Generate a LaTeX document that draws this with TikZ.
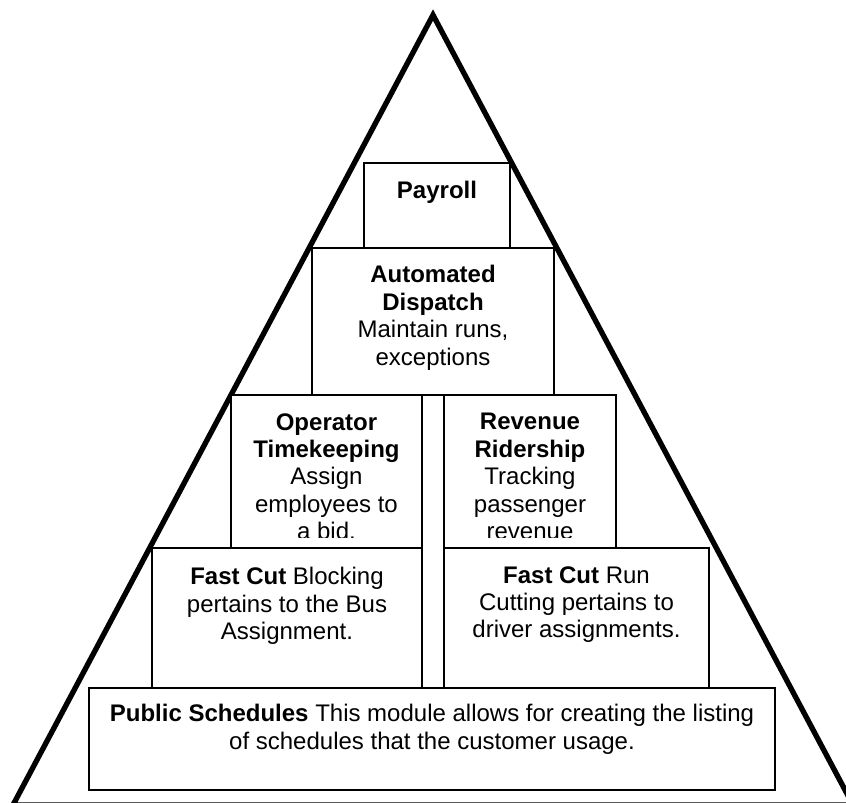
\documentclass[tikz,border=0pt]{standalone}
\usepackage{fontspec}
\setmainfont{Liberation Sans}
\usetikzlibrary{fit}
\begin{document}
\begin{tikzpicture}[x=0.75pt,y=-0.75pt,
  box/.style={draw, line width=1.5pt, fill=white, inner sep=0pt},
  txt/.style={anchor=north, align=center, inner sep=0pt,
              font=\fontsize{18}{20.6}\selectfont},
  pyramid/.style={draw, line width=4pt, line join=miter}]
\useasboundingbox (0,0) rectangle (846,803);
\clip (0,0) rectangle (846,803);
\fill[white] (0,0) rectangle (846,803);

% outer pyramid
\coordinate (apex) at (433,15);
\coordinate (baseL) at (13,805);
\coordinate (baseR) at (853,805);
\draw[pyramid] (apex) -- (baseL) -- (baseR) -- cycle;

% module boxes, from the top level down
\node[box, fit={(364,163) (510,248)}] (payroll) {};
\node[box, fit={(312,248) (554,395)}] (dispatch) {};
\node[box, fit={(231,395) (422,548)}] (operator) {};
\node[box, fit={(444,395) (616,548)}] (revenue) {};
\node[box, fit={(152,548) (422,688)}] (blocking) {};
\node[box, fit={(444,548) (709,688)}] (runcut) {};
\node[box, fit={(89,688) (775,790)}] (public) {};

% box texts
\node[txt] (payrollText) at (437,181) {\textbf{Payroll}};
\node[txt] (dispatchText) at (433,265)
  {\textbf{Automated}\\\textbf{Dispatch}\\Maintain runs,\\exceptions};
\begin{scope}
  \clip (231,395) rectangle (616,537.5);
  \node[txt] (operatorText) at (326.5,413)
    {\textbf{Operator}\\\textbf{Timekeeping}\\Assign\\employees to\\a bid.};
  \node[txt] (revenueText) at (530,413)
    {\textbf{Revenue}\\\textbf{Ridership}\\Tracking\\passenger\\revenue};
\end{scope}
\node[txt] (blockingText) at (287,567)
  {\textbf{Fast Cut} Blocking\\pertains to the Bus\\Assignment.};
\node[txt] (runcutText) at (576.5,566)
  {\textbf{Fast Cut} Run\\Cutting pertains to\\driver assignments.};
\node[txt] (publicText) at (432,704)
  {\textbf{Public Schedules} This module allows for creating the listing\\of schedules that the customer usage.};
\end{tikzpicture}
\end{document}
